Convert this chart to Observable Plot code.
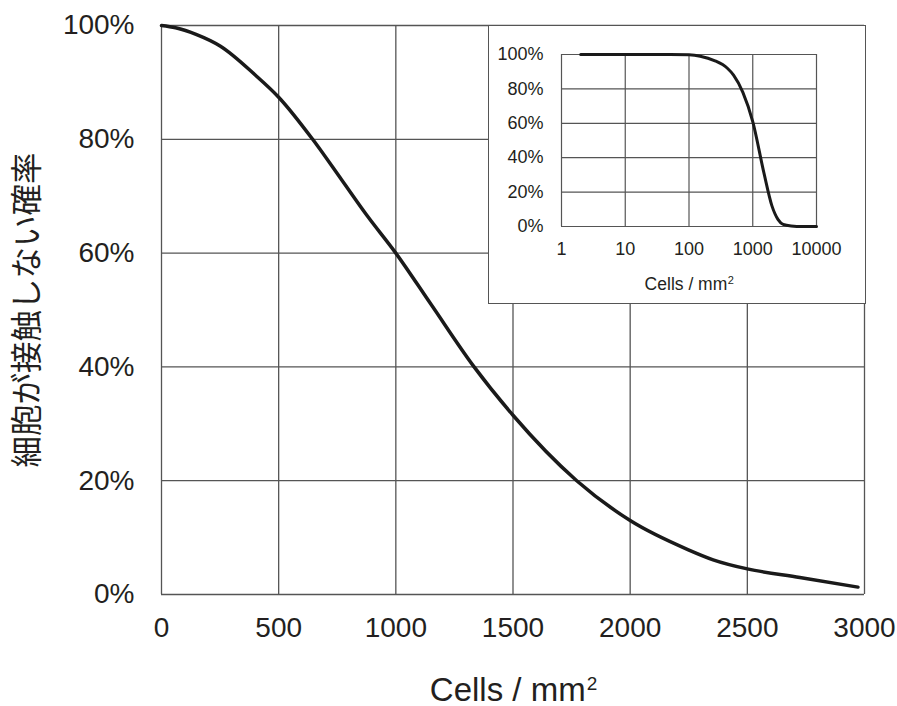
<!DOCTYPE html>
<html><head><meta charset="utf-8">
<script src="https://cdn.jsdelivr.net/npm/d3@7"></script>
<script src="https://cdn.jsdelivr.net/npm/@observablehq/plot@0.6"></script>
<style>
body{margin:0;background:#fff}
#wrap{position:relative;width:897px;height:706px}
#inset{position:absolute;left:488px;top:25px;width:378px;height:279px;box-sizing:border-box;border:1px solid #555;background:#fff}
svg{display:block}
</style>
</head><body>
<div id="wrap"><div id="inset"></div></div>
<script>
// Main chart data (cells per mm², probability of no contact)
const mainX = [0, 60, 150, 250, 400, 500, 645, 770, 877, 1000, 1150, 1334, 1500, 1772, 2000, 2246, 2354, 2500, 2724, 2972];
const mainY = [1.000, 0.996, 0.984, 0.964, 0.913, 0.874, 0.80, 0.728, 0.666, 0.60, 0.51, 0.40, 0.315, 0.20, 0.13, 0.079, 0.061, 0.045, 0.030, 0.013];
const mainXTicks = [0, 500, 1000, 1500, 2000, 2500, 3000];
const yTicks = [0, 0.2, 0.4, 0.6, 0.8, 1.0];

// Inset data (log x)
const insetX = [2, 5, 10, 20, 50, 100, 150, 250, 400, 500, 700, 1000, 1500, 2000, 2500, 3000, 4000, 6000, 10000];
const insetY = [1, 1, 1, 1, 1, 0.998, 0.99, 0.965, 0.92, 0.88, 0.78, 0.61, 0.31, 0.12, 0.04, 0.012, 0.003, 0, 0];
const insetXTicks = [1, 10, 100, 1000, 10000];

const xLabelBase = "Cells / mm";
const xLabelSup = "2";
const yLabel = "細胞が接触しない確率";

const latinName = "Liberation Sans";
const latin = "'Liberation Sans', Arial, Helvetica, sans-serif";
const cjk = "'Noto Sans CJK JP', sans-serif";
const ink = "#231f20";
const gridColor = "#555";
const pct = d => Math.round(d * 100) + "%";

const ctx = document.createElement("canvas").getContext("2d");
function measure(str, size) { ctx.font = `${size}px '${latinName}'`; return ctx.measureText(str).width; }

const mainData = mainX.map((x, i) => ({x, y: mainY[i]}));
const insetData = insetX.map((x, i) => ({x, y: insetY[i]}));

// main x label (base + superscript)
const mLab = 33, mSup = 19;
const mW1 = measure(xLabelBase, mLab), mW2 = measure(xLabelSup, mSup);
const mStart = -(mW1 + mW2) / 2;

const main = Plot.plot({
  width: 897, height: 706,
  marginLeft: 161, marginRight: 33, marginTop: 25, marginBottom: 112,
  style: {fontFamily: latin, fontSize: "28px", color: ink, background: "#fff"},
  x: {domain: [0, 3000]},
  y: {domain: [0, 1]},
  marks: [
    Plot.ruleX(mainXTicks, {stroke: gridColor, strokeWidth: 1.3}),
    Plot.ruleY(yTicks, {stroke: gridColor, strokeWidth: 1.3}),
    Plot.axisX({ticks: mainXTicks, tickSize: 0, tickPadding: 23, tickFormat: d => String(d), label: null, fontSize: 28, fill: ink}),
    Plot.axisY({ticks: yTicks, tickSize: 0, tickPadding: 27, tickFormat: pct, label: null, fontSize: 28, fill: ink}),
    Plot.line(mainData, {x: "x", y: "y", stroke: "#1a1a1a", strokeWidth: 3.5, curve: "monotone-x"}),
    Plot.text([xLabelBase], {frameAnchor: "bottom", textAnchor: "start", lineAnchor: "bottom", dx: mStart, dy: 106, fontSize: mLab, fill: ink, fontFamily: latin}),
    Plot.text([xLabelSup], {frameAnchor: "bottom", textAnchor: "start", lineAnchor: "bottom", dx: mStart + mW1 + 1, dy: 95, fontSize: mSup, fill: ink, fontFamily: latin}),
    Plot.text([yLabel], {frameAnchor: "left", textAnchor: "middle", dx: -134, rotate: -90, fontSize: 31.5, fill: ink, fontFamily: cjk})
  ]
});
const wrap = document.getElementById("wrap");
wrap.insertBefore(main, wrap.firstChild);

// inset x label
const iLab = 17.5, iSup = 11;
const iW1 = measure(xLabelBase, iLab), iW2 = measure(xLabelSup, iSup);
const iStart = -(iW1 + iW2) / 2;

const inset = Plot.plot({
  width: 376, height: 277,
  marginLeft: 72, marginRight: 49, marginTop: 28, marginBottom: 77,
  style: {fontFamily: latin, fontSize: "18px", color: ink, background: "#fff"},
  x: {type: "log", domain: [1, 10000]},
  y: {domain: [0, 1]},
  marks: [
    Plot.ruleX(insetXTicks, {stroke: gridColor, strokeWidth: 1.2}),
    Plot.ruleY(yTicks, {stroke: gridColor, strokeWidth: 1.2}),
    Plot.axisX({ticks: insetXTicks, tickSize: 0, tickPadding: 15.5, tickFormat: d => String(d), label: null, fontSize: 18, fill: ink}),
    Plot.axisY({ticks: yTicks, tickSize: 0, tickPadding: 18, tickFormat: pct, label: null, fontSize: 18, fill: ink}),
    Plot.line(insetData, {x: "x", y: "y", stroke: "#1a1a1a", strokeWidth: 3, curve: "monotone-x"}),
    Plot.text([xLabelBase], {frameAnchor: "bottom", textAnchor: "start", lineAnchor: "bottom", dx: iStart, dy: 63.5, fontSize: iLab, fill: ink, fontFamily: latin}),
    Plot.text([xLabelSup], {frameAnchor: "bottom", textAnchor: "start", lineAnchor: "bottom", dx: iStart + iW1 + 0.5, dy: 57, fontSize: iSup, fill: ink, fontFamily: latin})
  ]
});
document.getElementById("inset").appendChild(inset);
</script>
</body></html>
